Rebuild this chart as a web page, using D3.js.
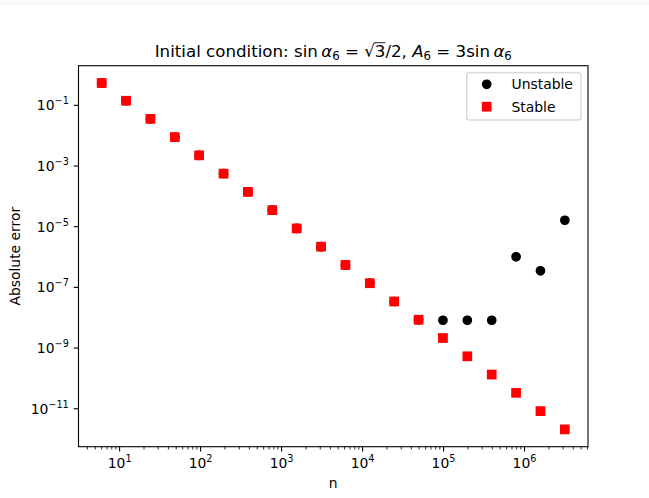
<!DOCTYPE html>
<html><head><meta charset="utf-8">
<script src="https://cdn.jsdelivr.net/npm/d3@7/dist/d3.min.js"></script>
<style>html,body{margin:0;padding:0;background:#fff;} svg{display:block;font-family:"DejaVu Sans",sans-serif;}</style>
</head><body>
<svg id="c" width="649" height="498"></svg>
<script>
const nValues = [6, 12, 24, 48, 96, 192, 384, 768, 1536, 3072, 6144, 12288, 24576, 49152, 98304, 196608, 393216, 786432, 1572864, 3145728];
const stableErr = [0.5435, 0.14159, 0.03576, 0.008963, 0.0022424, 5.6074e-4, 1.4018e-4, 3.5046e-5, 8.7615e-6, 2.1904e-6, 5.4760e-7, 1.3690e-7, 3.4225e-8, 8.5562e-9, 2.1390e-9, 5.3476e-10, 1.3369e-10, 3.3422e-11, 8.3556e-12, 2.0889e-12];
const unstableErr = [0.5435, 0.14159, 0.03576, 0.008963, 0.0022424, 5.6074e-4, 1.4018e-4, 3.5046e-5, 8.7615e-6, 2.1904e-6, 5.4760e-7, 1.3690e-7, 3.4225e-8, 8.5562e-9, 8.25e-9, 8.25e-9, 8.25e-9, 1.02e-6, 3.52e-7, 1.63e-5];
const xTickExps = [1, 2, 3, 4, 5, 6];
const yTickExps = [-1, -3, -5, -7, -9, -11];
const seriesNames = ["Unstable", "Stable"];

const svg = d3.select("#c");
const L = 78.5, R = 588, T = 65.7, B = 446.7;
svg.append("rect").attr("x",0).attr("y",0).attr("width",649).attr("height",5.5).attr("fill","#f9f9f9");

const x = d3.scaleLog().domain([Math.pow(10,0.49217), Math.pow(10,6.78368)]).range([L, R]);
const y = d3.scaleLog().domain([Math.pow(10,-12.2509), Math.pow(10,0.3060)]).range([B, T]);

const fs = 13.9;
// x minor ticks
const minorX = [];
for (let e = 0; e <= 6; e++) for (let m = 2; m <= 9; m++) { const v = m*Math.pow(10,e); if (v >= x.domain()[0] && v <= x.domain()[1]) minorX.push(v); }
const gx = svg.append("g");
gx.selectAll("line.mn").data(minorX).join("line").attr("x1",d=>x(d)).attr("x2",d=>x(d)).attr("y1",B).attr("y2",B+2.78).attr("stroke","#000").attr("stroke-width",0.83);
gx.selectAll("line.mj").data(xTickExps).join("line").attr("x1",d=>x(Math.pow(10,d))).attr("x2",d=>x(Math.pow(10,d))).attr("y1",B).attr("y2",B+4.86).attr("stroke","#000").attr("stroke-width",1.1);
const xl = gx.selectAll("text").data(xTickExps).join("text").attr("x",d=>x(Math.pow(10,d))).attr("y",468).attr("text-anchor","middle").attr("font-size",fs).attr("fill","#000");
xl.append("tspan").text("10");
xl.append("tspan").attr("dy",-6).attr("font-size",9.7).text(d=>String(d).replace("-","\u2212"));

const gy = svg.append("g");
gy.selectAll("line").data(yTickExps).join("line").attr("x1",L-4.86).attr("x2",L).attr("y1",d=>y(Math.pow(10,d))).attr("y2",d=>y(Math.pow(10,d))).attr("stroke","#000").attr("stroke-width",1.1);
const yl = gy.selectAll("text").data(yTickExps).join("text").attr("x",L-9.7).attr("y",d=>y(Math.pow(10,d))+5).attr("text-anchor","end").attr("font-size",fs).attr("fill","#000");
yl.append("tspan").text("10");
yl.append("tspan").attr("dy",-6).attr("font-size",9.7).text(d=>String(d).replace("-","\u2212"));

// data
const unstable = nValues.map((n,i)=>({n, v: unstableErr[i]}));
const stable = nValues.map((n,i)=>({n, v: stableErr[i]}));
svg.append("g").selectAll("circle").data(unstable).join("circle")
  .attr("cx",d=>x(d.n)).attr("cy",d=>y(d.v)).attr("r",4.17).attr("fill","#000").attr("stroke","#000").attr("stroke-width",1.39);
svg.append("g").selectAll("rect").data(stable).join("rect")
  .attr("x",d=>x(d.n)-4.17).attr("y",d=>y(d.v)-4.17).attr("width",8.33).attr("height",8.33).attr("fill","#ff0000").attr("stroke","#ff0000").attr("stroke-width",1.39);

// frame
svg.append("rect").attr("x",L).attr("y",T).attr("width",R-L).attr("height",B-T).attr("fill","none").attr("stroke","#000").attr("stroke-width",1.1);

// legend
const lg = svg.append("g");
lg.append("rect").attr("x",466.7).attr("y",72.7).attr("width",114.3).attr("height",47.3).attr("rx",2.8).attr("fill","#fff").attr("fill-opacity",0.8).attr("stroke","#cccccc").attr("stroke-width",1.1);
lg.append("circle").attr("cx",486.7).attr("cy",84.3).attr("r",4.17).attr("fill","#000").attr("stroke","#000").attr("stroke-width",1.39);
lg.append("rect").attr("x",486.7-4.17).attr("y",106.7-4.17).attr("width",8.33).attr("height",8.33).attr("fill","#ff0000").attr("stroke","#ff0000").attr("stroke-width",1.39);
lg.selectAll("text").data(seriesNames).join("text").attr("x",511.5).attr("y",(d,i)=>[84.3,106.7][i]+5).attr("font-size",fs).attr("fill","#000").text(d=>d);

// axis labels
svg.append("text").attr("x",(L+R)/2).attr("y",488).attr("text-anchor","middle").attr("font-size",fs).text("n");
svg.append("text").attr("transform",`translate(20,${(T+B)/2}) rotate(-90)`).attr("text-anchor","middle").attr("font-size",fs).text("Absolute error");

// title
const tfs = 16.67;
const segs = [
  {t:"Initial condition: sin\u2009"},
  {t:"α", it:true},
  {t:"6", sub:true},
  {t:" = "},
  {t:"√"},
  {t:"3", bar:true},
  {t:"/2, "},
  {t:"A", it:true},
  {t:"6", sub:true},
  {t:" = 3sin\u2009"},
  {t:"α", it:true},
  {t:"6", sub:true}
];
const title = svg.append("text").attr("x",(L+R)/2).attr("y",56.5).attr("text-anchor","middle").attr("font-size",tfs).attr("fill","#000");
let idx = 0, barIdx = -1, rootIdx = -1, shifted = false;
segs.forEach(s=>{
  const sp = title.append("tspan").text(s.t);
  if (s.it) sp.attr("font-style","italic");
  if (s.sub) { sp.attr("font-size",tfs*0.7).attr("dy",3.5); shifted = true; }
  else if (shifted) { sp.attr("dy",-3.5); shifted = false; }
  if (s.bar) barIdx = idx;
  if (s.t === "√") rootIdx = idx;
  idx += s.t.length;
});
try {
  const node = title.node();
  const r = node.getExtentOfChar(rootIdx);
  const b = node.getExtentOfChar(barIdx);
  const yb = r.y + 1.2;
  svg.append("line").attr("x1",r.x + r.width - 0.5).attr("x2",b.x + b.width).attr("y1",yb).attr("y2",yb).attr("stroke","#000").attr("stroke-width",0.9);
} catch(e) {}
</script>
</body></html>
